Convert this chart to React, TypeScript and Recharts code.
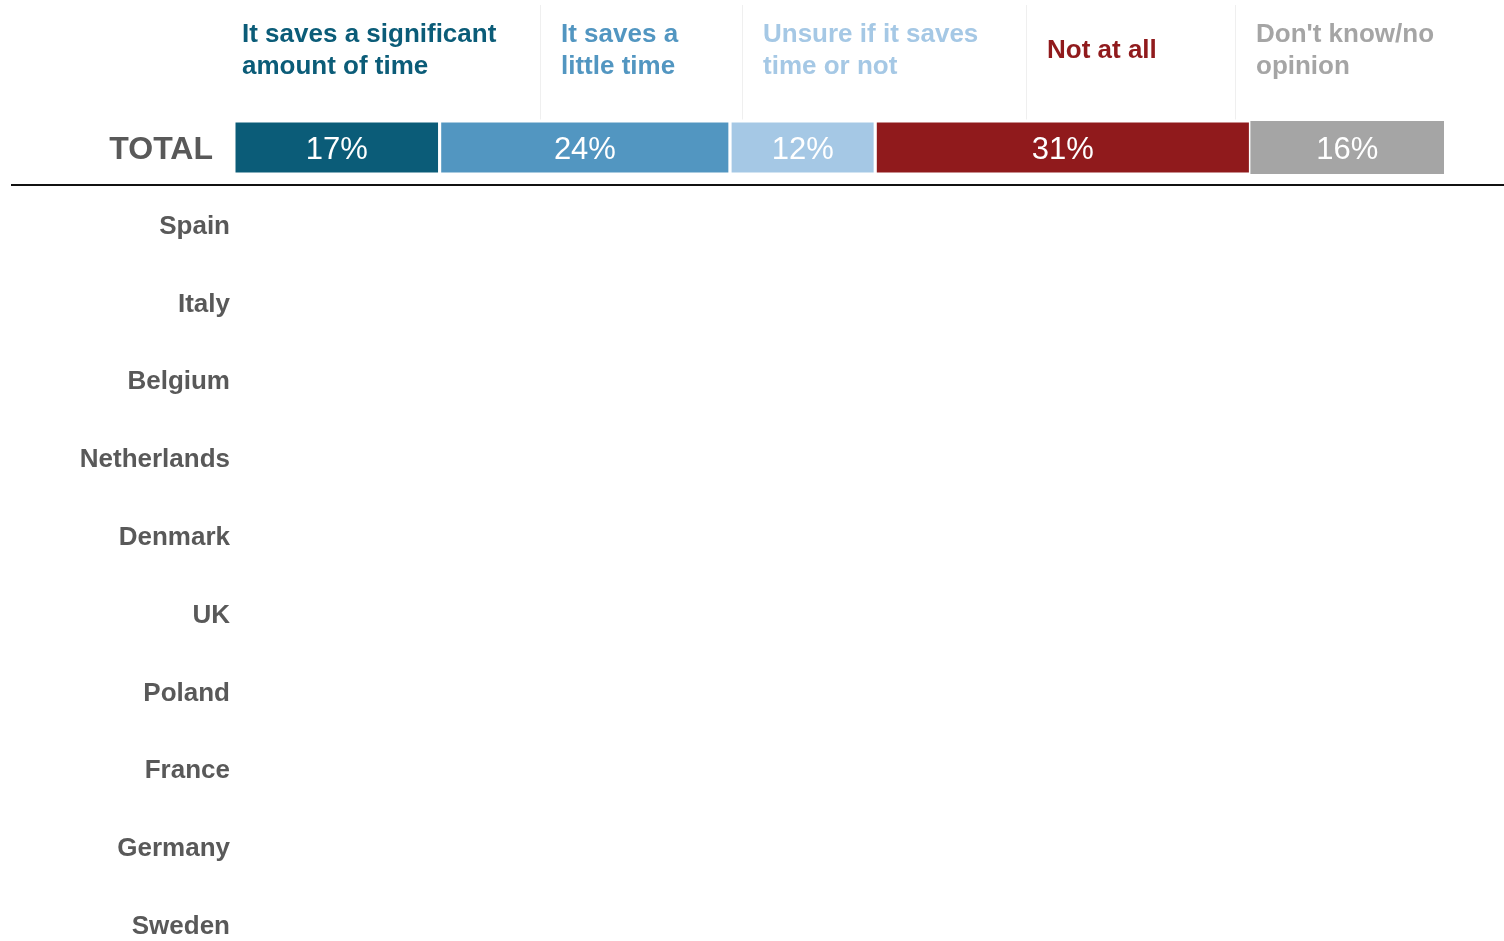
import { Bar, BarChart, LabelList, XAxis, YAxis } from "recharts"

const categories = ["TOTAL", "Spain", "Italy", "Belgium", "Netherlands", "Denmark", "UK", "Poland", "France", "Germany", "Sweden"]

const seriesKeys = ["significant", "little", "unsure", "notAtAll", "dontKnow"]

const seriesLabels = [
  ["It saves a significant", "amount of time"],
  ["It saves a", "little time"],
  ["Unsure if it saves", "time or not"],
  ["Not at all"],
  ["Don't know/no", "opinion"],
]

const seriesColors = ["#0b5c78", "#5296c1", "#a5c8e5", "#901a1c", "#a5a5a5"]

// only the TOTAL row has values in the picture
const totalValues = [17, 24, 12, 31, 16]

const data = categories.map((name, i) => {
  const row: Record<string, string | number | null> = { name }
  seriesKeys.forEach((k, j) => {
    row[k] = i === 0 ? totalValues[j] : null
  })
  return row
})

const font = "'Liberation Sans', Arial, sans-serif"

// header columns: left edge and width inside the container
const headerCols = [
  { left: 227, width: 305, pad: 7, border: false },
  { left: 532, width: 202, pad: 20, border: true },
  { left: 734, width: 284, pad: 20, border: true },
  { left: 1018, width: 209, pad: 20, border: true },
  { left: 1227, width: 261, pad: 20, border: true },
]

function CategoryTick(props: any) {
  const { x, y, payload } = props
  const isTotal = payload.value === "TOTAL"
  return (
    <text
      x={isTotal ? x - 21 : x - 4}
      y={isTotal ? y : y - 1}
      textAnchor="end"
      dominantBaseline="central"
      fill="#595959"
      fontFamily={font}
      fontWeight="bold"
      fontSize={isTotal ? 32 : 26}
    >
      {payload.value}
    </text>
  )
}

export default function App() {
  const last = seriesKeys.length - 1
  return (
    <div style={{ position: "fixed", left: 8, top: 8, width: 1488, height: 925, fontFamily: font }}>
      {headerCols.map((c, i) => (
        <div
          key={seriesKeys[i]}
          style={{
            position: "absolute",
            left: c.left,
            top: -3,
            width: c.width,
            height: 115,
            boxSizing: "border-box",
            paddingLeft: c.pad,
            borderLeft: c.border ? "1px solid #efefef" : "none",
          }}
        >
          <div
            style={{
              marginTop: 12,
              height: 64,
              display: "flex",
              alignItems: "center",
              color: seriesColors[i],
              fontWeight: "bold",
              fontSize: 26,
              lineHeight: "32px",
            }}
          >
            <div>
              {seriesLabels[i].map((line, j) => (
                <div key={j}>{line}</div>
              ))}
            </div>
          </div>
        </div>
      ))}
      <div style={{ position: "absolute", left: 0, top: 0 }}>
        <BarChart
          width={1496}
          height={933}
          data={data}
          layout="vertical"
          margin={{ top: 101, right: 60, bottom: -24, left: 0 }}
        >
          <XAxis type="number" domain={[0, 100]} hide />
          <YAxis
            type="category"
            dataKey="name"
            width={226}
            axisLine={false}
            tickLine={false}
            tickSize={0}
            tickMargin={0}
            interval={0}
            tick={<CategoryTick />}
          />
          {seriesKeys.map((k, i) => (
            <Bar
              key={k}
              dataKey={k}
              stackId="a"
              fill={seriesColors[i]}
              stroke={i === last ? "none" : "#fff"}
              strokeWidth={3}
              barSize={53}
              isAnimationActive={false}
            >
              <LabelList
                dataKey={k}
                position="center"
                fill="#fff"
                fontSize={31}
                fontFamily={font}
                formatter={(v: any) => (v == null ? "" : `${v}%`)}
              />
            </Bar>
          ))}
        </BarChart>
      </div>
      <div style={{ position: "absolute", left: 3, right: -8, top: 176, height: 2, background: "#111" }} />
    </div>
  )
}
